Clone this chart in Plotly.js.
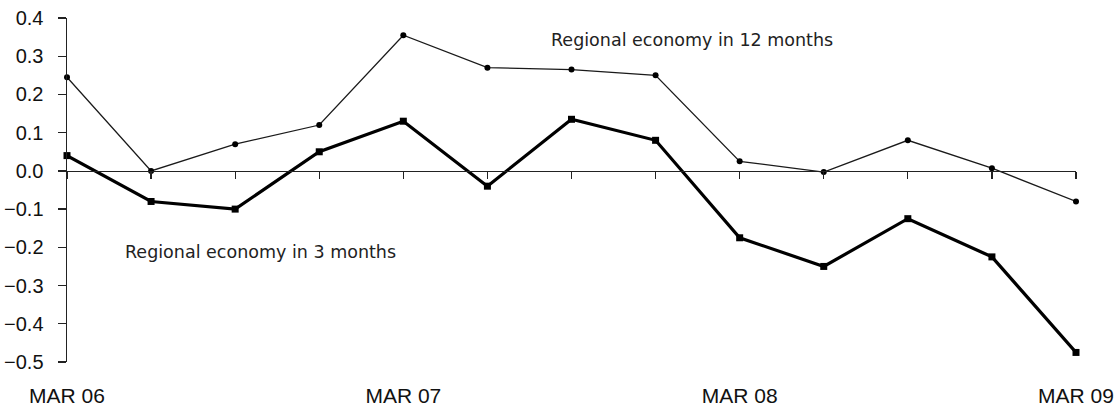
<!DOCTYPE html>
<html>
<head>
<meta charset="utf-8">
<script src="https://cdn.plot.ly/plotly-3.0.1.min.js"></script>
<style>
html,body{margin:0;padding:0;background:#fff;}
#chart{width:1120px;height:409px;}
</style>
</head>
<body>
<div id="chart"></div>
<script>
// Quarterly observations, MAR 06 .. MAR 09
var quarters = [0,1,2,3,4,5,6,7,8,9,10,11,12];
var tickPositions = [0,4,8,12];
var tickLabels = ["MAR 06","MAR 07","MAR 08","MAR 09"];
var yTicks = [0.4,0.3,0.2,0.1,0.0,-0.1,-0.2,-0.3,-0.4,-0.5];
var economy12m = [0.245, 0.0, 0.07, 0.12, 0.355, 0.27, 0.265, 0.25, 0.025, -0.003, 0.08, 0.007, -0.08];
var economy3m = [0.04, -0.08, -0.10, 0.05, 0.13, -0.04, 0.135, 0.08, -0.175, -0.25, -0.125, -0.225, -0.475];
var label12 = "Regional economy in 12 months";
var label3 = "Regional economy in 3 months";

var traces = [
  {
    x: quarters, y: economy12m, xaxis: 'x2', yaxis: 'y',
    mode: 'lines+markers', name: label12, cliponaxis: false,
    line: {color: '#1a1a1a', width: 1.3},
    marker: {symbol: 'circle', size: 6, color: '#000'}
  },
  {
    x: quarters, y: economy3m, xaxis: 'x', yaxis: 'y',
    mode: 'lines+markers', name: label3, cliponaxis: false,
    line: {color: '#000', width: 3.2},
    marker: {symbol: 'square', size: 7, color: '#000'}
  }
];

var yMin = -0.5, yMax = 0.4;
var layout = {
  width: 1120, height: 409,
  margin: {l: 67, r: 44, t: 18, b: 47},
  paper_bgcolor: '#fff', plot_bgcolor: '#fff',
  showlegend: false,
  font: {family: 'Liberation Sans, Arial, sans-serif', color: '#111'},
  xaxis: {
    range: [0, 12], showgrid: false, zeroline: false, showline: false,
    ticks: '', tickvals: tickPositions, ticktext: tickLabels,
    tickfont: {size: 21, family: 'Liberation Sans, Arial, sans-serif', color: '#111'},
    ticklabelstandoff: 19, fixedrange: true
  },
  xaxis2: {
    range: [0, 12], overlaying: 'x', anchor: 'free',
    position: (0 - yMin) / (yMax - yMin),
    showgrid: false, zeroline: false, showline: true, linecolor: '#222', linewidth: 1.3,
    ticks: 'outside', ticklen: 7, tickwidth: 1.3, tickcolor: '#222',
    tickvals: quarters, showticklabels: false, fixedrange: true
  },
  yaxis: {
    range: [yMin, yMax], showgrid: false, zeroline: false,
    showline: true, linecolor: '#222', linewidth: 1.5,
    ticks: 'outside', ticklen: 8, tickwidth: 1.3, tickcolor: '#222',
    tickvals: yTicks, tickformat: '.1f',
    tickfont: {size: 20, family: 'Liberation Sans, Arial, sans-serif', color: '#111'},
    ticklabelstandoff: 10, fixedrange: true
  },
  annotations: [
    {text: label12, xref: 'x', yref: 'y', x: 5.73, y: 0.343, xanchor: 'left', yanchor: 'middle',
     showarrow: false, font: {family: 'DejaVu Sans, Verdana, sans-serif', size: 17.5, color: '#222'}},
    {text: label3, xref: 'x', yref: 'y', x: 0.667, y: -0.212, xanchor: 'left', yanchor: 'middle',
     showarrow: false, font: {family: 'DejaVu Sans, Verdana, sans-serif', size: 17.5, color: '#222'}}
  ]
};

Plotly.newPlot('chart', traces, layout, {displayModeBar: false, staticPlot: true});
</script>
</body>
</html>
